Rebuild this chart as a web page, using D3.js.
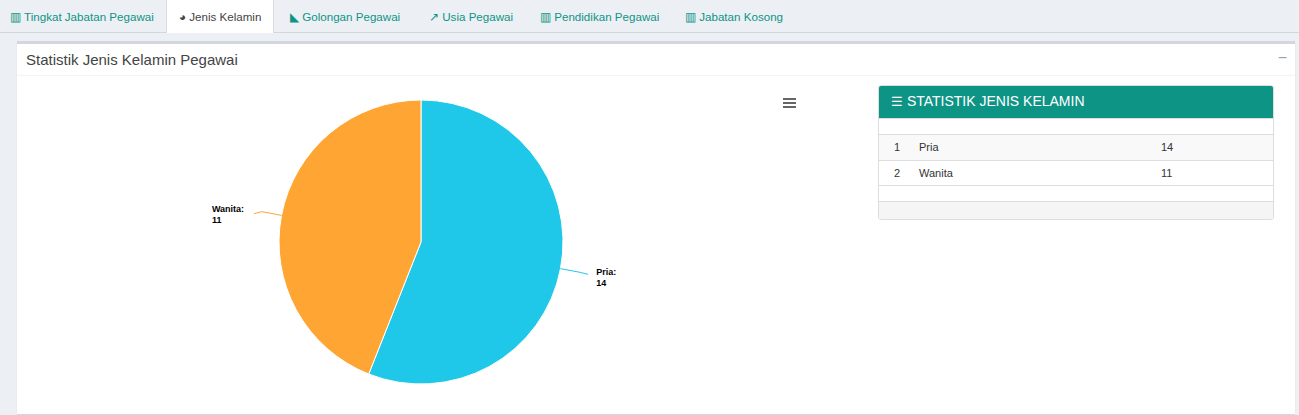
<!DOCTYPE html><html><head><meta charset="utf-8"><script src="https://cdn.jsdelivr.net/npm/d3@7"></script>
<style>
body{margin:0;width:1299px;height:415px;background:#ecf0f5;font-family:"Liberation Sans",Arial,sans-serif;position:relative;overflow:hidden}
.tabs{position:absolute;left:0;top:0;width:1299px;height:32px;border-bottom:1px solid #d2d6de}
.tab{position:absolute;top:0;height:32px;line-height:33px;font-size:11.6px;color:#0e9485;white-space:nowrap}
.tab.active{background:#fff;color:#444;border-left:1px solid #ddd;border-right:1px solid #ddd;height:33px}
.panel{position:absolute;left:17px;top:41px;width:1278px;height:370px;background:#fff;border-top:3px solid #d2d6de;box-shadow:0 1px 1px rgba(0,0,0,.1)}
.ph{position:absolute;left:0;top:0;width:100%;height:31px;border-bottom:1px solid #f4f4f4;font-size:15px;color:#444;line-height:31px}
.box{position:absolute;left:861px;top:41px;width:394px;height:133px;border:1px solid #ddd;border-radius:3px;overflow:hidden;font-size:11px;color:#333}
.bh{height:32px;background:#0e9485;color:#fff;font-size:14px;line-height:30px;padding-left:12px}
.row{position:absolute;left:0;width:100%;border-top:1px solid #ddd}
</style></head><body>
<div class="tabs" id="tabs"></div>
<div class="panel">
<div class="ph"><span style="margin-left:9px">Statistik Jenis Kelamin Pegawai</span><span style="position:absolute;right:8px;top:-2px;color:#97a0b3;font-size:16px">−</span></div>
<svg id="chart" width="850" height="335" style="position:absolute;left:0;top:32px"></svg>
<div class="box" id="box"><div class="bh"><span style="font-size:13px">☰</span> STATISTIK JENIS KELAMIN</div></div>
</div>
<script>
const tabs=["Tingkat Jabatan Pegawai","Jenis Kelamin","Golongan Pegawai","Usia Pegawai","Pendidikan Pegawai","Jabatan Kosong"];
const tabX=[10,166,290,429,540,685];
const categories=["Pria","Wanita"];
const values=[14,11];
const colors=["#1fc8e8","#ffa533"];
const icons=["▥","◕","◣","↗","▥","▥"];
d3.select("#tabs").selectAll("div").data(tabs).join("div")
 .attr("class",(d,i)=>"tab"+(i==1?" active":""))
 .style("left",(d,i)=>tabX[i]+"px")
 .style("padding",(d,i)=>i==1?"0 12px":"0")
 .text((d,i)=>icons[i]+" "+d);
const box=d3.select("#box");
const rowsY=[48,74];
box.append("div").attr("class","row").style("top","32px").style("height","16px");
categories.forEach((c,i)=>{
 const r=box.append("div").attr("class","row").style("top",rowsY[i]+"px").style("height","25px").style("background",i==0?"#f9f9f9":"#fff").style("line-height","25px");
 r.append("span").style("position","absolute").style("left","15px").text(i+1);
 r.append("span").style("position","absolute").style("left","40px").text(c);
 r.append("span").style("position","absolute").style("left","282px").text(values[i]);
});
box.append("div").attr("class","row").style("top","99px").style("height","16px");
box.append("div").attr("class","row").style("top","115px").style("height","18px").style("background","#f5f5f5");
const svg=d3.select("#chart");
const cx=404,cy=166,R=142;
const g=svg.append("g").attr("transform",`translate(${cx},${cy})`);
const pie=d3.pie().sort(null)(values);
const arc=d3.arc().innerRadius(0).outerRadius(R);
g.selectAll("path").data(pie).join("path").attr("d",arc).attr("fill",(d,i)=>colors[i]).attr("stroke","#fff").attr("stroke-width",1);
pie.forEach((d,i)=>{
 const a=(d.startAngle+d.endAngle)/2-Math.PI/2;
 const x1=Math.cos(a)*R,y1=Math.sin(a)*R;
 const x2=Math.cos(a)*(R+20),y2=Math.sin(a)*(R+20);
 const dir=Math.cos(a)>0?1:-1;
 const x3=x2+dir*8;
 const lx=dir>0?x3+8:x3-42;
 g.append("path").attr("d",`M${x1},${y1} L${x2},${y2} L${x3},${y2+2}`).attr("fill","none").attr("stroke",colors[i]).attr("stroke-width",1);
 const t=g.append("text").attr("font-size",9).attr("font-weight","bold").attr("fill","#000")
  .attr("x",lx).attr("y",y2+(dir>0?3:0));
 t.append("tspan").text(categories[i]+":");
 t.append("tspan").attr("x",lx).attr("dy",11).text(values[i]);
});
[0,4,8].forEach(o=>svg.append("rect").attr("x",766).attr("y",22+o).attr("width",13).attr("height",2).attr("fill","#666"));
</script></body></html>
